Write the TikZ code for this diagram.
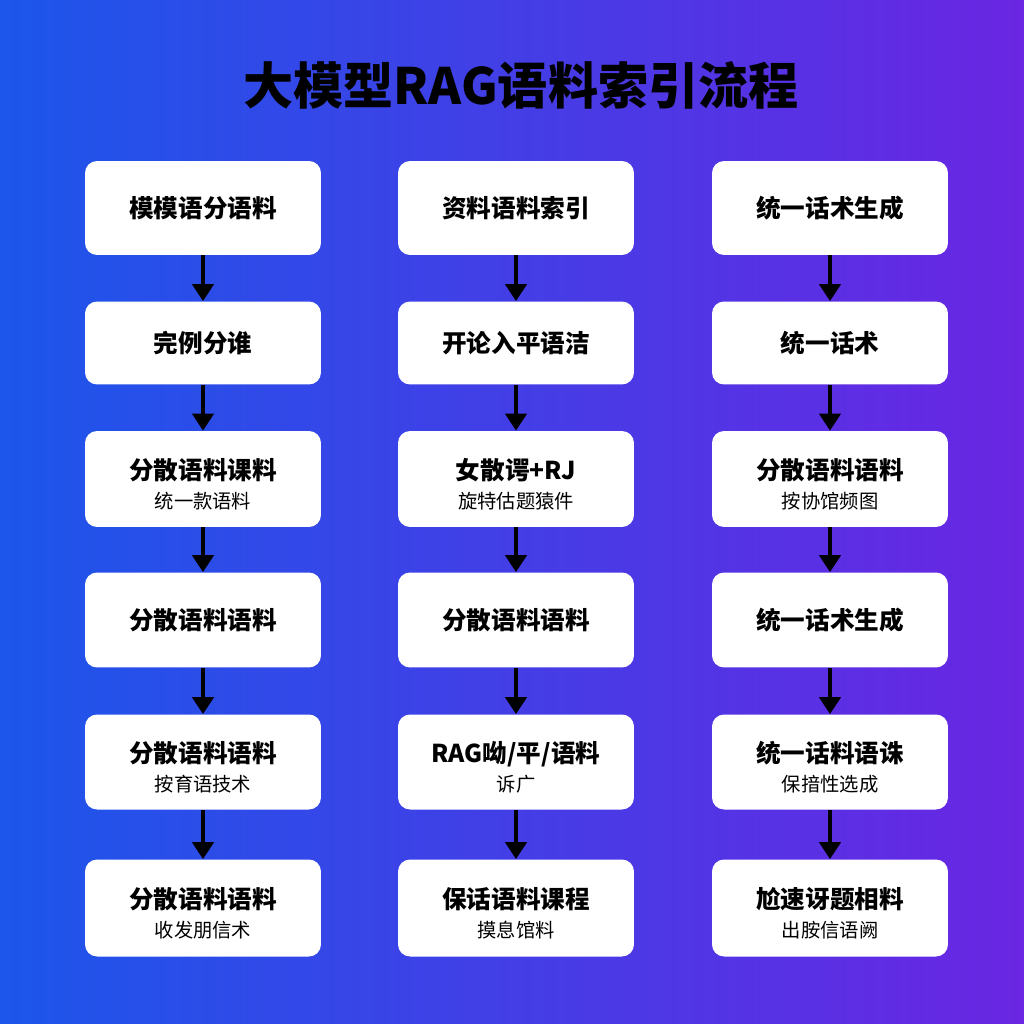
\documentclass[tikz,border=0pt]{standalone}
\usepackage{fontspec}
\setmainfont{Noto Sans CJK SC}
\usetikzlibrary{arrows.meta}
\definecolor{bgblue}{HTML}{1C56EA}
\definecolor{bgpurple}{HTML}{6A26E2}
\newcommand{\twolines}[2]{\rule{0pt}{17.5pt}#1\\[-0.5pt]{\fontsize{11}{13}\selectfont\mdseries #2}}

\begin{document}
\begin{tikzpicture}
        [
        x=0.02cm, y=-0.02cm,
        align=center,
        stepbox/.style={rectangle, rounded corners=0.24cm, fill=white, minimum width=4.72cm, inner sep=2pt, font=\fontsize{14}{17}\selectfont\bfseries},
        flow/.style={draw=black, line width=2.4pt, -{Triangle[length=0.34cm, width=0.42cm]}},
        ]
                % background
                \shade[left color=bgblue, right color=bgpurple] (0,0) rectangle (1024,1024);
                \node[font=\fontsize{28.5}{34}\selectfont\bfseries] (title) at (521,85) {大模型RAG语料索引流程};

                % left column
                \node[stepbox, minimum height=1.88cm] (a1) at (203,208) {模模语分语料};
                \node[stepbox, minimum height=1.66cm] (a2) at (203,343) {完例分谁};
                \node[stepbox, minimum height=1.92cm] (a3) at (203,479) {\twolines{分散语料课料}{统一款语料}};
                \node[stepbox, minimum height=1.90cm] (a4) at (203,620) {分散语料语料};
                \node[stepbox, minimum height=1.90cm] (a5) at (203,762) {\twolines{分散语料语料}{按育语技术}};
                \node[stepbox, minimum height=1.94cm] (a6) at (203,908) {\twolines{分散语料语料}{收发朋信术}};

                % middle column
                \node[stepbox, minimum height=1.88cm] (b1) at (516,208) {资料语料索引};
                \node[stepbox, minimum height=1.66cm] (b2) at (516,343) {开论入平语洁};
                \node[stepbox, minimum height=1.92cm] (b3) at (516,479) {\twolines{女散谔+RJ}{旋特估题猿件}};
                \node[stepbox, minimum height=1.90cm] (b4) at (516,620) {分散语料语料};
                \node[stepbox, minimum height=1.90cm] (b5) at (516,762) {\twolines{RAG呦/平/语料}{诉广}};
                \node[stepbox, minimum height=1.94cm] (b6) at (516,908) {\twolines{保话语料课程}{摸息馆料}};

                % right column
                \node[stepbox, minimum height=1.88cm] (c1) at (830,208) {统一话术生成};
                \node[stepbox, minimum height=1.66cm] (c2) at (830,343) {统一话术};
                \node[stepbox, minimum height=1.92cm] (c3) at (830,479) {\twolines{分散语料语料}{按协馆频图}};
                \node[stepbox, minimum height=1.90cm] (c4) at (830,620) {统一话术生成};
                \node[stepbox, minimum height=1.90cm] (c5) at (830,762) {\twolines{统一话料语诛}{保揞性选成}};
                \node[stepbox, minimum height=1.94cm] (c6) at (830,908) {\twolines{尬速讶题相料}{出胺信语阙}};

                % drawing code
                \foreach \col in {a,b,c}
                        \foreach \from/\to in {1/2,2/3,3/4,4/5,5/6} \draw[flow] (\col\from) -- (\col\to);
        \end{tikzpicture}
\end{document}
